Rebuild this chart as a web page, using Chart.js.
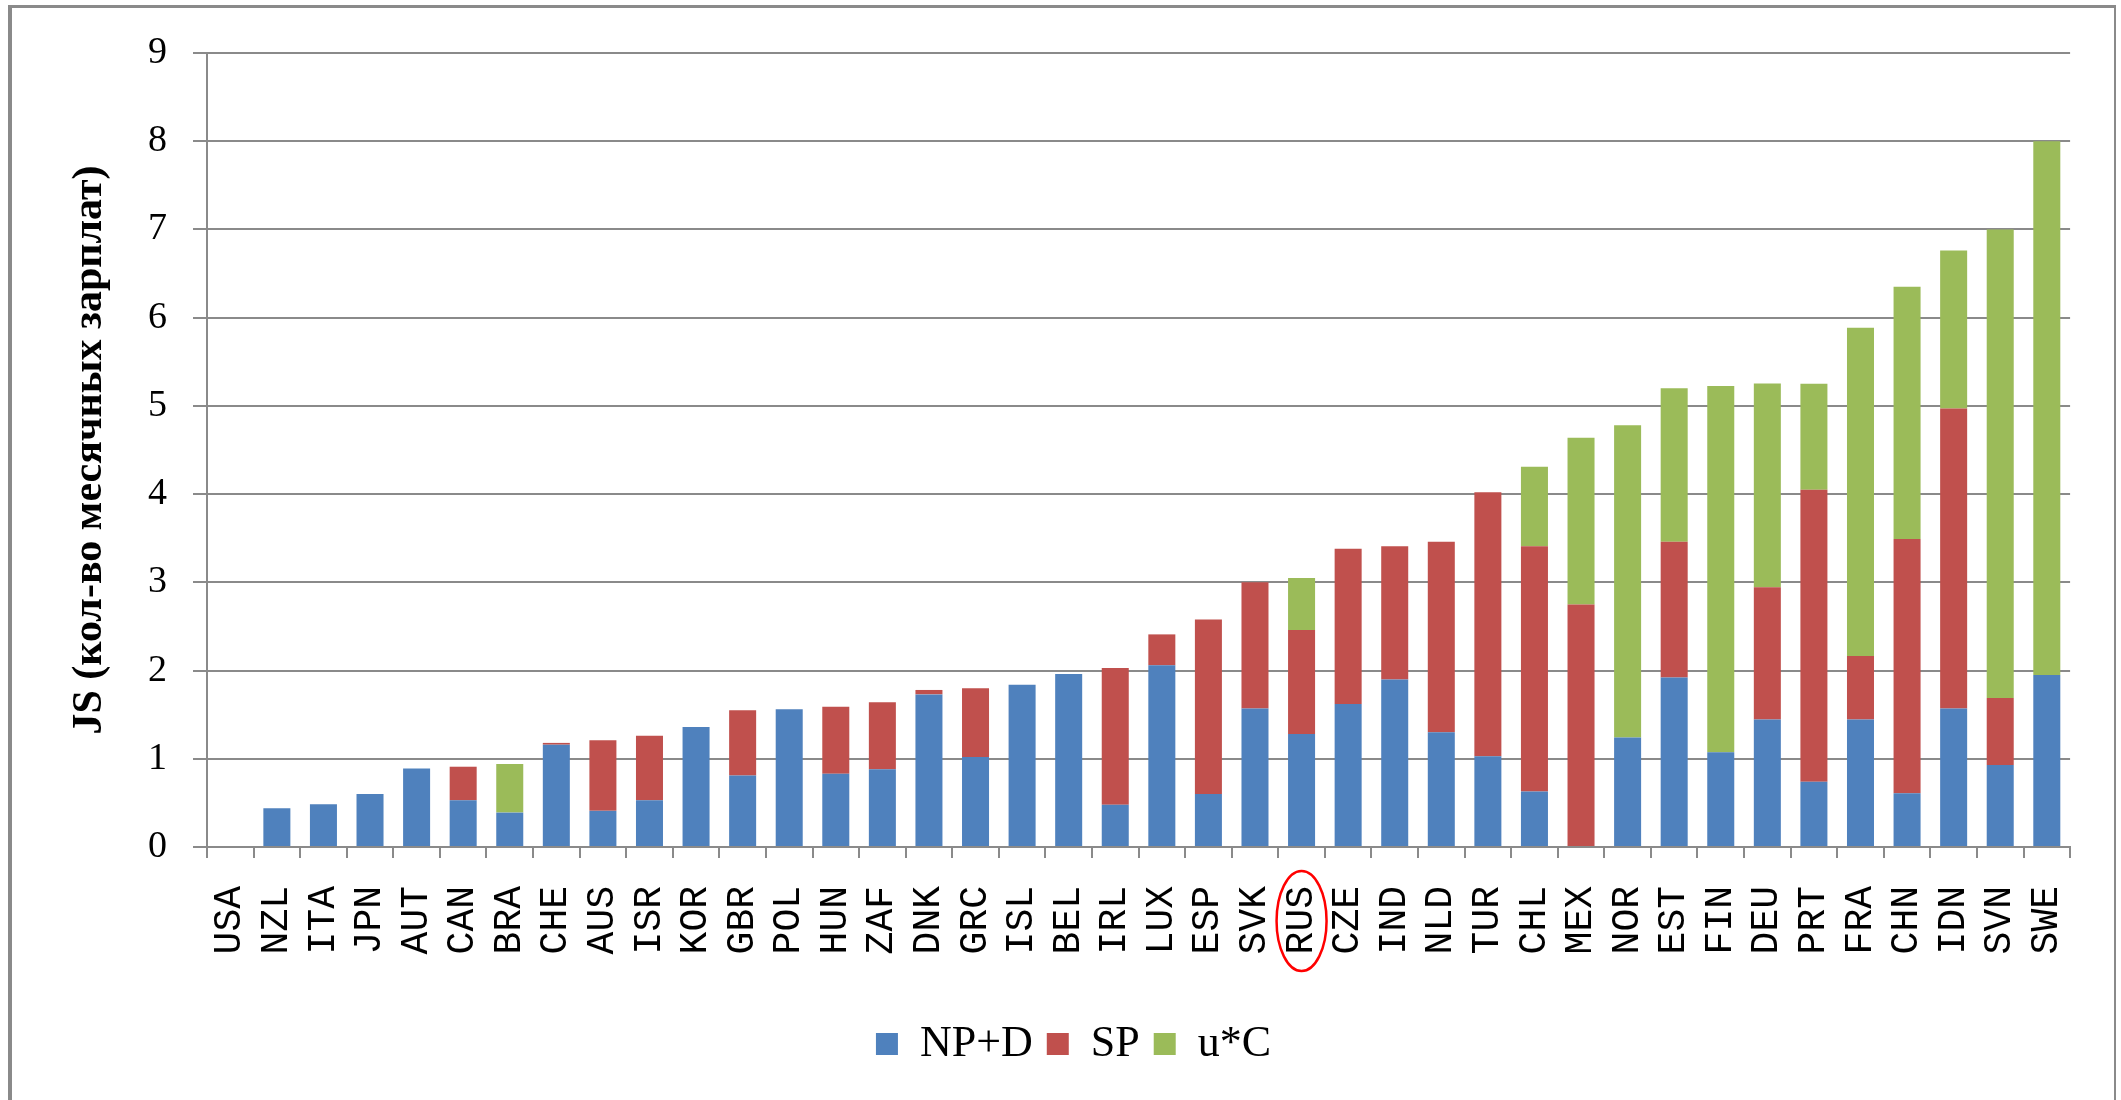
<!DOCTYPE html>
<html>
<head>
<meta charset="utf-8">
<script src="https://cdn.jsdelivr.net/npm/chart.js@4/dist/chart.umd.min.js"></script>
<style>
  html, body { margin: 0; padding: 0; background: #fff; }
  #wrap { position: absolute; left: 0; top: 0; width: 2121px; height: 1100px; }
  #frame { position: absolute; left: 8px; top: 5px; width: 2108px; height: 1100px;
           border-left: 4px solid #8a8a8a; border-top: 3px solid #8a8a8a; border-right: 2px solid #8a8a8a;
           box-sizing: border-box; pointer-events: none; }
</style>
</head>
<body>
<div id="wrap"><canvas id="c" width="2121" height="1100"></canvas></div>
<div id="frame"></div>
<script>
const categories = ['USA','NZL','ITA','JPN','AUT','CAN','BRA','CHE','AUS','ISR','KOR','GBR','POL','HUN','ZAF','DNK','GRC','ISL','BEL','IRL','LUX','ESP','SVK','RUS','CZE','IND','NLD','TUR','CHL','MEX','NOR','EST','FIN','DEU','PRT','FRA','CHN','IDN','SVN','SWE'];

const npd = [0, 0.44, 0.485, 0.60, 0.89, 0.53, 0.39, 1.16, 0.41, 0.53, 1.36, 0.81, 1.56, 0.83, 0.88, 1.73, 1.02, 1.84, 1.96, 0.48, 2.06, 0.60, 1.57, 1.28, 1.62, 1.90, 1.30, 1.03, 0.63, 0, 1.24, 1.92, 1.075, 1.445, 0.74, 1.445, 0.61, 1.57, 0.93, 1.95];

const sp = [0, 0, 0, 0, 0, 0.38, 0, 0.02, 0.80, 0.73, 0, 0.74, 0, 0.76, 0.76, 0.05, 0.78, 0, 0, 1.55, 0.35, 1.98, 1.43, 1.18, 1.76, 1.51, 2.16, 2.99, 2.78, 2.75, 0, 1.54, 0, 1.50, 3.31, 0.72, 2.88, 3.40, 0.76, 0];

const uc = [0, 0, 0, 0, 0, 0, 0.55, 0, 0, 0, 0, 0, 0, 0, 0, 0, 0, 0, 0, 0, 0, 0, 0, 0.59, 0, 0, 0, 0, 0.90, 1.89, 3.54, 1.74, 4.15, 2.31, 1.20, 3.72, 2.86, 1.79, 5.31, 6.05];

const seriesNames = ['NP+D', 'SP', 'u*C'];
const yTicks = [0, 1, 2, 3, 4, 5, 6, 7, 8, 9];
const yTitle = 'JS (кол-во месячных зарплат)';
const highlighted = 'RUS';

const GRID = '#8a8a8a';

const ellipsePlugin = {
  id: 'ellipse',
  afterDraw(chart) {
    const xs = chart.scales.x;
    const idx = categories.indexOf(highlighted);
    const cx = xs.getPixelForValue(idx);
    const cy = xs.top + 74;
    const ctx = chart.ctx;
    ctx.save();
    ctx.beginPath();
    ctx.ellipse(cx, cy, 25, 50, 0, 0, Math.PI * 2);
    ctx.strokeStyle = '#ff0000';
    ctx.lineWidth = 2.5;
    ctx.stroke();
    ctx.restore();
  }
};

new Chart(document.getElementById('c'), {
  type: 'bar',
  data: {
    labels: categories,
    datasets: [
      { label: seriesNames[0], data: npd, backgroundColor: '#4F81BD', borderWidth: 0 },
      { label: seriesNames[1], data: sp, backgroundColor: '#C0504D', borderWidth: 0 },
      { label: seriesNames[2], data: uc, backgroundColor: '#9BBB59', borderWidth: 0 }
    ]
  },
  options: {
    responsive: false,
    animation: false,
    devicePixelRatio: 1,
    categoryPercentage: 1,
    barPercentage: 0.58,
    layout: { padding: { left: 74, right: 48, top: 53, bottom: 24 } },
    plugins: {
      tooltip: { enabled: false },
      legend: {
        position: 'bottom',
        labels: {
          boxWidth: 22, boxHeight: 22, padding: 14, color: '#000',
          font: { family: '"Liberation Serif", "Times New Roman", serif', size: 44 }
        }
      }
    },
    scales: {
      x: {
        stacked: true,
        afterFit(scale) { scale.height = 161; },
        grid: { display: true, drawOnChartArea: false, offset: true, tickLength: 11, color: GRID, lineWidth: 2 },
        border: { display: true, color: GRID, width: 2 },
        ticks: {
          autoSkip: false, maxRotation: 90, minRotation: 90, padding: 28, color: '#000',
          font: { family: '"Liberation Mono", "Courier New", monospace', size: 38 }
        }
      },
      y: {
        stacked: true,
        min: 0, max: 9,
        afterFit(scale) { scale.width = 133; },
        afterBuildTicks(scale) { scale.ticks = yTicks.map(v => ({ value: v })); },
        grid: { color: GRID, lineWidth: 2, tickLength: 14 },
        border: { display: true, color: GRID, width: 2 },
        ticks: {
          padding: 26, color: '#000',
          font: { family: '"Liberation Serif", "Times New Roman", serif', size: 38 }
        },
        title: {
          display: true, text: yTitle, color: '#000',
          padding: { top: -9, bottom: 0 },
          font: { family: '"Liberation Serif", "Times New Roman", serif', size: 42, weight: 'bold' }
        }
      }
    }
  },
  plugins: [ellipsePlugin]
});
</script>
</body>
</html>
